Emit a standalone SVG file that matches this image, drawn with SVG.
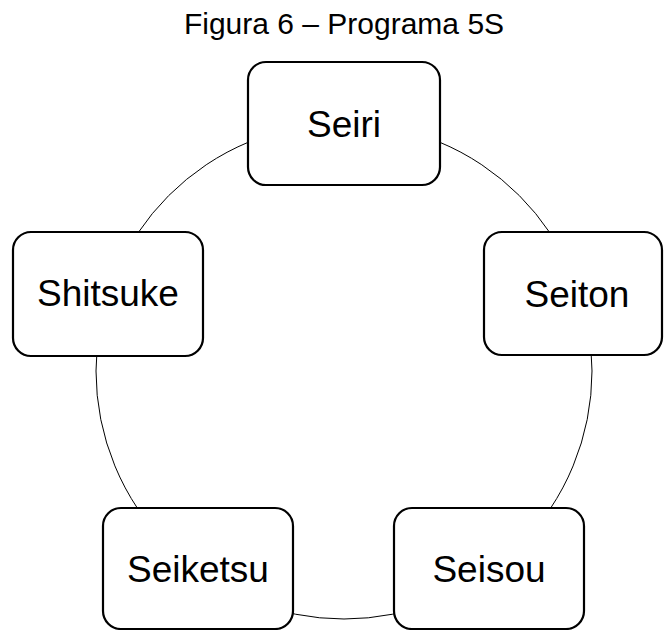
<svg xmlns="http://www.w3.org/2000/svg" width="664" height="630" viewBox="0 0 664 630">
<style>
.box{fill:#fff;stroke:#000;stroke-width:2.2}
.lbl{font-family:"Liberation Sans",Arial,sans-serif;font-size:37px;fill:#000;text-anchor:middle}
.title{font-family:"Liberation Sans",Arial,sans-serif;font-size:30px;fill:#000;text-anchor:middle}
.conn{fill:none;stroke:#000;stroke-width:1}
</style>
<rect width="664" height="630" fill="#fff"/>
<text class="title" x="344" y="34">Figura 6 – Programa 5S</text>
<g id="connectors">
<circle class="conn" cx="344" cy="371" r="248"/>
</g>
<g id="seiri">
<rect class="box" x="248" y="62" width="192" height="123" rx="18"/>
<text class="lbl" x="344" y="137">Seiri</text>
</g>
<g id="seiton">
<rect class="box" x="484" y="232" width="178" height="123" rx="18"/>
<text class="lbl" x="577" y="307">Seiton</text>
</g>
<g id="seisou">
<rect class="box" x="394" y="508" width="190" height="121" rx="18"/>
<text class="lbl" x="489" y="582">Seisou</text>
</g>
<g id="seiketsu">
<rect class="box" x="103" y="508" width="190" height="121" rx="18"/>
<text class="lbl" x="198" y="582">Seiketsu</text>
</g>
<g id="shitsuke">
<rect class="box" x="13" y="232" width="190" height="124" rx="18"/>
<text class="lbl" x="108" y="306">Shitsuke</text>
</g>
</svg>
